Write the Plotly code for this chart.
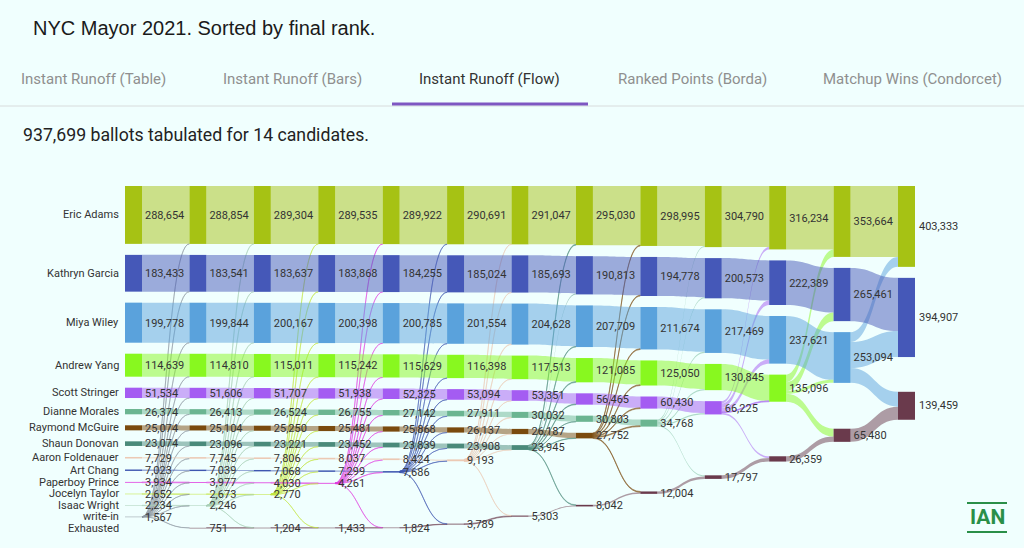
import plotly.graph_objects as go

# ---------------- data ----------------
candidates = ["Eric Adams", "Kathryn Garcia", "Miya Wiley", "Andrew Yang",
              "Scott Stringer", "Dianne Morales", "Raymond McGuire",
              "Shaun Donovan", "Aaron Foldenauer", "Art Chang",
              "Paperboy Prince", "Jocelyn Taylor", "Isaac Wright", "write-in"]

# votes per round, until the round in which the candidate is eliminated
eric_adams = [288654, 288854, 289304, 289535, 289922, 290691, 291047, 295030, 298995, 304790, 316234, 353664, 403333]
kathryn_garcia = [183433, 183541, 183637, 183868, 184255, 185024, 185693, 190813, 194778, 200573, 222389, 265461, 394907]
miya_wiley = [199778, 199844, 200167, 200398, 200785, 201554, 204628, 207709, 211674, 217469, 237621, 253094]
andrew_yang = [114639, 114810, 115011, 115242, 115629, 116398, 117513, 121085, 125050, 130845, 135096]
scott_stringer = [51534, 51606, 51707, 51938, 52325, 53094, 53351, 56465, 60430, 66225]
dianne_morales = [26374, 26413, 26524, 26755, 27142, 27911, 30032, 30803, 34768]
raymond_mcguire = [25074, 25104, 25250, 25481, 25868, 26137, 26187, 27752]
shaun_donovan = [23074, 23096, 23221, 23452, 23839, 23908, 23945]
aaron_foldenauer = [7729, 7745, 7806, 8037, 8424, 9193]
art_chang = [7023, 7039, 7068, 7299, 7686]
paperboy_prince = [3934, 3977, 4030, 4261]
jocelyn_taylor = [2652, 2673, 2770]
isaac_wright = [2234, 2246]
write_in = [1567]
exhausted = [0, 751, 1204, 1433, 1824, 3789, 5303, 8042, 12004, 17797, 26359, 65480, 139459]
exhausted_label = "Exhausted"

series = [eric_adams, kathryn_garcia, miya_wiley, andrew_yang, scott_stringer,
          dianne_morales, raymond_mcguire, shaun_donovan, aaron_foldenauer,
          art_chang, paperboy_prince, jocelyn_taylor, isaac_wright, write_in]

# ---------------- styles ----------------
cand_colors = ["#a6c214", "#4558b8", "#5aa2dc", "#88f81f", "#a45cf2", "#6bb591",
               "#7a4a0e", "#4a8a7a", "#ecc9b4", "#3e56b0", "#e03ee0", "#c4e640",
               "#a8cfb6", "#8c96a0"]
exhausted_color = "#6a3a4c"
BG = "#f0fffe"
TXT = "#333333"
W, HGT = 1024, 548
MT, MB = 186, 20            # sankey area top / bottom margins (px)
H = HGT - MT - MB           # sankey height in px
GAP = 11.0                  # gap between stacked nodes
THICK = 17                  # node thickness
X_FIRST, X_LAST = 133.5, 906.5   # column centres (px)
LABEL_SIZE = 11
# the exhausted pile sits low in early rounds and rises towards the candidates later
EX_RISE_END, EX_RISE_STEP = 0.18, 0.108

n_rounds = len(exhausted)
total = sum(s[0] for s in series)
max_nodes = max(sum(1 for s in series if r < len(s)) + (1 if exhausted[r] > 0 else 0)
                for r in range(n_rounds))
ky = (H - max_nodes * GAP) / total          # first column also holds "Exhausted"
PLOTLY_PAD = (H - ky * total) / (max_nodes - 1)


def hex_rgba(h, a):
    h = h.lstrip("#")
    return "rgba(%d,%d,%d,%.2f)" % (int(h[0:2], 16), int(h[2:4], 16), int(h[4:6], 16), a)


# ---------------- build nodes & links ----------------
N = []
idx = {}
cols = []
for r in range(n_rounds):
    col = []
    for ci, s in enumerate(series):
        if r < len(s):
            idx[(r, ci)] = len(N)
            N.append(dict(col=r, key=ci, value=s[r], color=cand_colors[ci]))
            col.append(idx[(r, ci)])
    if exhausted[r] > 0:
        idx[(r, "x")] = len(N)
        N.append(dict(col=r, key="x", value=exhausted[r], color=exhausted_color))
        col.append(idx[(r, "x")])
    cols.append(col)

src, tgt, val, lcol = [], [], [], []


def add_link(a, b, v):
    src.append(a); tgt.append(b); val.append(v)
    lcol.append(hex_rgba(N[a]["color"], 0.5))


for r in range(n_rounds - 1):
    elim = [ci for ci, s in enumerate(series) if len(s) == r + 1]
    e = idx[(r, elim[0])]
    for ci, s in enumerate(series):
        if r + 1 < len(s):
            add_link(idx[(r, ci)], idx[(r + 1, ci)], s[r])
            gain = s[r + 1] - s[r]
            if gain > 0:
                add_link(e, idx[(r + 1, ci)], gain)
    prev = exhausted[r]
    if prev > 0:
        add_link(idx[(r, "x")], idx[(r + 1, "x")], prev)
    gain = exhausted[r + 1] - prev
    if gain > 0:
        add_link(e, idx[(r + 1, "x")], gain)

# ---------------- vertical layout ----------------
low = {}
for r, c in enumerate(cols):
    y = 0.0
    for n in c:
        if N[n]["key"] == "x":
            continue
        N[n]["y0"] = y
        N[n]["y1"] = y + N[n]["value"] * ky
        y = N[n]["y1"] + GAP
    low[r] = y
    if (r, "x") in idx:
        n = idx[(r, "x")]
        h = N[n]["value"] * ky
        frac = min(1.0, EX_RISE_END + EX_RISE_STEP * (n_rounds - 1 - r))
        y0 = low[r] + frac * max(0.0, H - h - low[r])
        N[n]["y0"], N[n]["y1"] = y0, y0 + h


def center(n):
    return (N[n]["y0"] + N[n]["y1"]) / 2


step = (X_LAST - X_FIRST) / (n_rounds - 1)
node_x = [(X_FIRST + nd["col"] * step) / W for nd in N]
node_y = [center(i) / H for i in range(len(N))]
labels = ["" if nd["col"] == n_rounds - 1 else f"{nd['value']:,}" for nd in N]
colors = [nd["color"] for nd in N]

fig = go.Figure(go.Sankey(
    arrangement="fixed",
    domain=dict(x=[0, 1], y=[0, 1]),
    node=dict(label=labels, color=colors, x=node_x, y=node_y, pad=PLOTLY_PAD,
              thickness=THICK, line=dict(width=0)),
    link=dict(source=src, target=tgt, value=val, color=lcol),
    textfont=dict(family="Roboto", size=LABEL_SIZE, color=TXT, shadow="none"),
    hoverinfo="none",
))


def yp(px):
    return (HGT - MB - px) / H


lab_font = dict(family="Roboto", size=LABEL_SIZE, color=TXT)
ann = []
name_x = (X_FIRST - THICK / 2 - 4) / W
for ci, name in enumerate(candidates):
    n = idx[(0, ci)]
    ann.append(dict(text=name, x=name_x, y=1 - center(n) / H, xanchor="right",
                    yanchor="middle", showarrow=False, font=lab_font))
ann.append(dict(text=exhausted_label, x=name_x, y=1 - low[0] / H, xanchor="right",
                yanchor="middle", showarrow=False, font=lab_font))
for n in cols[-1]:
    ann.append(dict(text=f"{N[n]['value']:,}", x=(X_LAST + THICK / 2 + 2) / W,
                    y=1 - center(n) / H, xanchor="left", yanchor="middle",
                    showarrow=False, font=lab_font))

# header
ann.append(dict(text="NYC Mayor 2021. Sorted by final rank.", x=31 / W, y=yp(28),
                xanchor="left", yanchor="middle", showarrow=False,
                font=dict(family="Arial", size=20, color="#1a1a1a")))
tabs = ["Instant Runoff (Table)", "Instant Runoff (Bars)", "Instant Runoff (Flow)",
        "Ranked Points (Borda)", "Matchup Wins (Condorcet)"]
tab_x = [93, 292, 489, 692, 912]
for t, tx in zip(tabs, tab_x):
    ann.append(dict(text=t, x=tx / W, y=yp(79), xanchor="center", yanchor="middle",
                    showarrow=False,
                    font=dict(family="Roboto", size=15,
                              color="#333333" if "Flow" in t else "#8f8f8f")))
ann.append(dict(text=f"{total:,} ballots tabulated for {len(candidates)} candidates.",
                x=21 / W, y=yp(135), xanchor="left", yanchor="middle", showarrow=False,
                font=dict(family="Roboto", size=17.7, color="#222222")))
ann.append(dict(text="<b>IAN</b>", x=987 / W, y=yp(517), xanchor="center", yanchor="middle",
                showarrow=False, font=dict(family="Roboto", size=21, color="#2a8f48")))

shapes = [
    dict(type="line", xref="paper", yref="paper", x0=0, x1=1, y0=yp(106), y1=yp(106),
         line=dict(color="#d8dcdc", width=1)),
    dict(type="rect", xref="paper", yref="paper", x0=392 / W, x1=588 / W, y0=yp(105.5), y1=yp(102.5),
         line=dict(width=0), fillcolor="#7e57c2"),
    dict(type="line", xref="paper", yref="paper", x0=967 / W, x1=1007 / W, y0=yp(503), y1=yp(503),
         line=dict(color="#2a8f48", width=2)),
    dict(type="line", xref="paper", yref="paper", x0=967 / W, x1=1007 / W, y0=yp(532), y1=yp(532),
         line=dict(color="#2a8f48", width=2)),
]

fig.update_layout(width=W, height=HGT, margin=dict(l=0, r=0, t=MT, b=MB),
                  paper_bgcolor=BG, plot_bgcolor=BG, annotations=ann, shapes=shapes,
                  font=dict(family="Roboto"))

fig.write_html("out.html", config={"displayModeBar": False},
               post_script="document.body.style.margin='0';document.body.style.background='%s';" % BG)
